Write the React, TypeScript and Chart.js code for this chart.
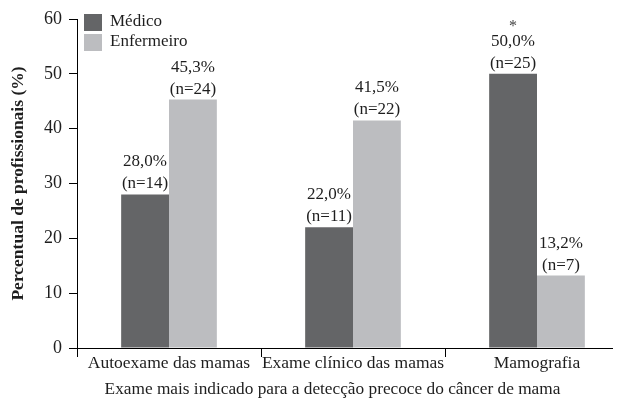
import React, { useEffect, useRef } from "react";
import { Chart, registerables } from "chart.js";

Chart.register(...registerables);

const categories = ["Autoexame das mamas", "Exame clínico das mamas", "Mamografia"];
const seriesNames = ["Médico", "Enfermeiro"];
const medico = [28.0, 22.0, 50.0];
const enfermeiro = [45.3, 41.5, 13.2];
const medicoN = [14, 11, 25];
const enfermeiroN = [24, 22, 7];
const medicoMarks = ["", "", "*"];
const enfermeiroMarks = ["", "", ""];
const yMin = 0;
const yMax = 60;
const yStep = 10;
const xTitle = "Exame mais indicado para a detecção precoce do câncer de mama";
const yTitle = "Percentual de profissionais (%)";

const seriesColors = ["#646567", "#bcbdc0"];
const FONT = "'Liberation Serif', 'Times New Roman', serif";
const TEXT = "#1e1e1e";

const fmt = (v: number) => v.toFixed(1).replace(".", ",") + "%";

// widen the category band mapping beyond the drawn axis line end
const bandPlugin = {
  id: "bandExtend",
  afterLayout(chart: any) {
    const x = chart.scales.x;
    const r = x.right;
    const w = x.width;
    x.right = r + 17;
    x.width = w + 17;
    x.configure();
    x.right = r;
    x.width = w;
  },
};

const labelPlugin = {
  id: "barLabels",
  afterDatasetsDraw(chart: any) {
    const ctx = chart.ctx;
    const counts = [medicoN, enfermeiroN];
    const marks = [medicoMarks, enfermeiroMarks];
    ctx.save();
    ctx.fillStyle = TEXT;
    ctx.textAlign = "center";
    ctx.textBaseline = "alphabetic";
    chart.data.datasets.forEach((ds: any, di: number) => {
      const meta = chart.getDatasetMeta(di);
      meta.data.forEach((bar: any, i: number) => {
        const x = bar.x;
        const y = bar.y;
        ctx.font = `17px ${FONT}`;
        ctx.fillText(`(n=${counts[di][i]})`, x, y - 6);
        ctx.fillText(fmt(ds.data[i]), x, y - 28);
        if (marks[di][i]) {
          ctx.fillStyle = "#444";
          ctx.font = `16px ${FONT}`;
          ctx.fillText(marks[di][i], x, y - 43);
          ctx.fillStyle = TEXT;
        }
      });
    });
    ctx.restore();
  },
};

const legendPlugin = {
  id: "customLegend",
  afterDraw(chart: any) {
    const ctx = chart.ctx;
    const { left, top, right } = chart.chartArea;
    ctx.save();
    ctx.textAlign = "left";
    ctx.textBaseline = "middle";
    ctx.font = `17px ${FONT}`;
    chart.data.datasets.forEach((ds: any, i: number) => {
      const sx = left + 7;
      const sy = top - 5 + i * 20;
      ctx.fillStyle = ds.backgroundColor;
      ctx.fillRect(sx, sy, 18, 17);
      ctx.fillStyle = TEXT;
      ctx.fillText(ds.label, sx + 26, sy + 8);
    });
    // x-axis title
    ctx.textAlign = "center";
    ctx.textBaseline = "alphabetic";
    ctx.font = `17.3px ${FONT}`;
    ctx.fillText(xTitle, (left + right) / 2 - 12, chart.height - 15);
    ctx.restore();
  },
};

export default function App() {
  const ref = useRef<HTMLCanvasElement>(null);

  useEffect(() => {
    if (!ref.current) return;
    const chart = new Chart(ref.current, {
      type: "bar",
      data: {
        labels: categories,
        datasets: [
          { label: seriesNames[0], data: medico, backgroundColor: seriesColors[0], borderWidth: 0 },
          { label: seriesNames[1], data: enfermeiro, backgroundColor: seriesColors[1], borderWidth: 0 },
        ],
      },
      options: {
        animation: false,
        responsive: false,
        devicePixelRatio: 1,
        layout: { padding: { top: 19, right: 5, bottom: 0, left: 0 } },
        plugins: {
          legend: { display: false },
          tooltip: { enabled: false },
        },
        datasets: {
          bar: { barPercentage: 1, categoryPercentage: 0.52 },
        },
        scales: {
          x: {
            offset: true,
            grid: {
              offset: true,
              drawOnChartArea: false,
              drawTicks: true,
              tickLength: 9,
              tickColor: (c: any) => (c.index === undefined ? "rgba(0,0,0,0)" : "#000"),
              color: "#000",
            },
            border: { display: true, color: "#000", width: 1 },
            ticks: {
              color: TEXT,
              font: { family: FONT, size: 17.5 },
              padding: -4,
              maxRotation: 0,
              autoSkip: false,
            },
            title: { display: false },
            afterFit: (s: any) => {
              s.height = 61;
            },
          },
          y: {
            min: yMin,
            max: yMax,
            ticks: {
              stepSize: yStep,
              color: TEXT,
              font: { family: FONT, size: 18 },
              padding: 7,
            },
            grid: {
              drawOnChartArea: false,
              drawTicks: true,
              tickLength: 8,
              color: "#000",
            },
            border: { display: true, color: "#000", width: 1 },
            title: {
              display: true,
              text: yTitle,
              color: TEXT,
              font: { family: FONT, size: 17.5, weight: "bold" },
              padding: { top: 8, bottom: 0 },
            },
            afterFit: (s: any) => {
              s.width = 77;
            },
          },
        },
      },
      plugins: [bandPlugin, labelPlugin, legendPlugin],
    });
    return () => chart.destroy();
  }, []);

  return (
    <div style={{ position: "absolute", left: 0, top: 0, width: 617, height: 409, background: "#fff" }}>
      <canvas ref={ref} width={617} height={409} />
    </div>
  );
}
